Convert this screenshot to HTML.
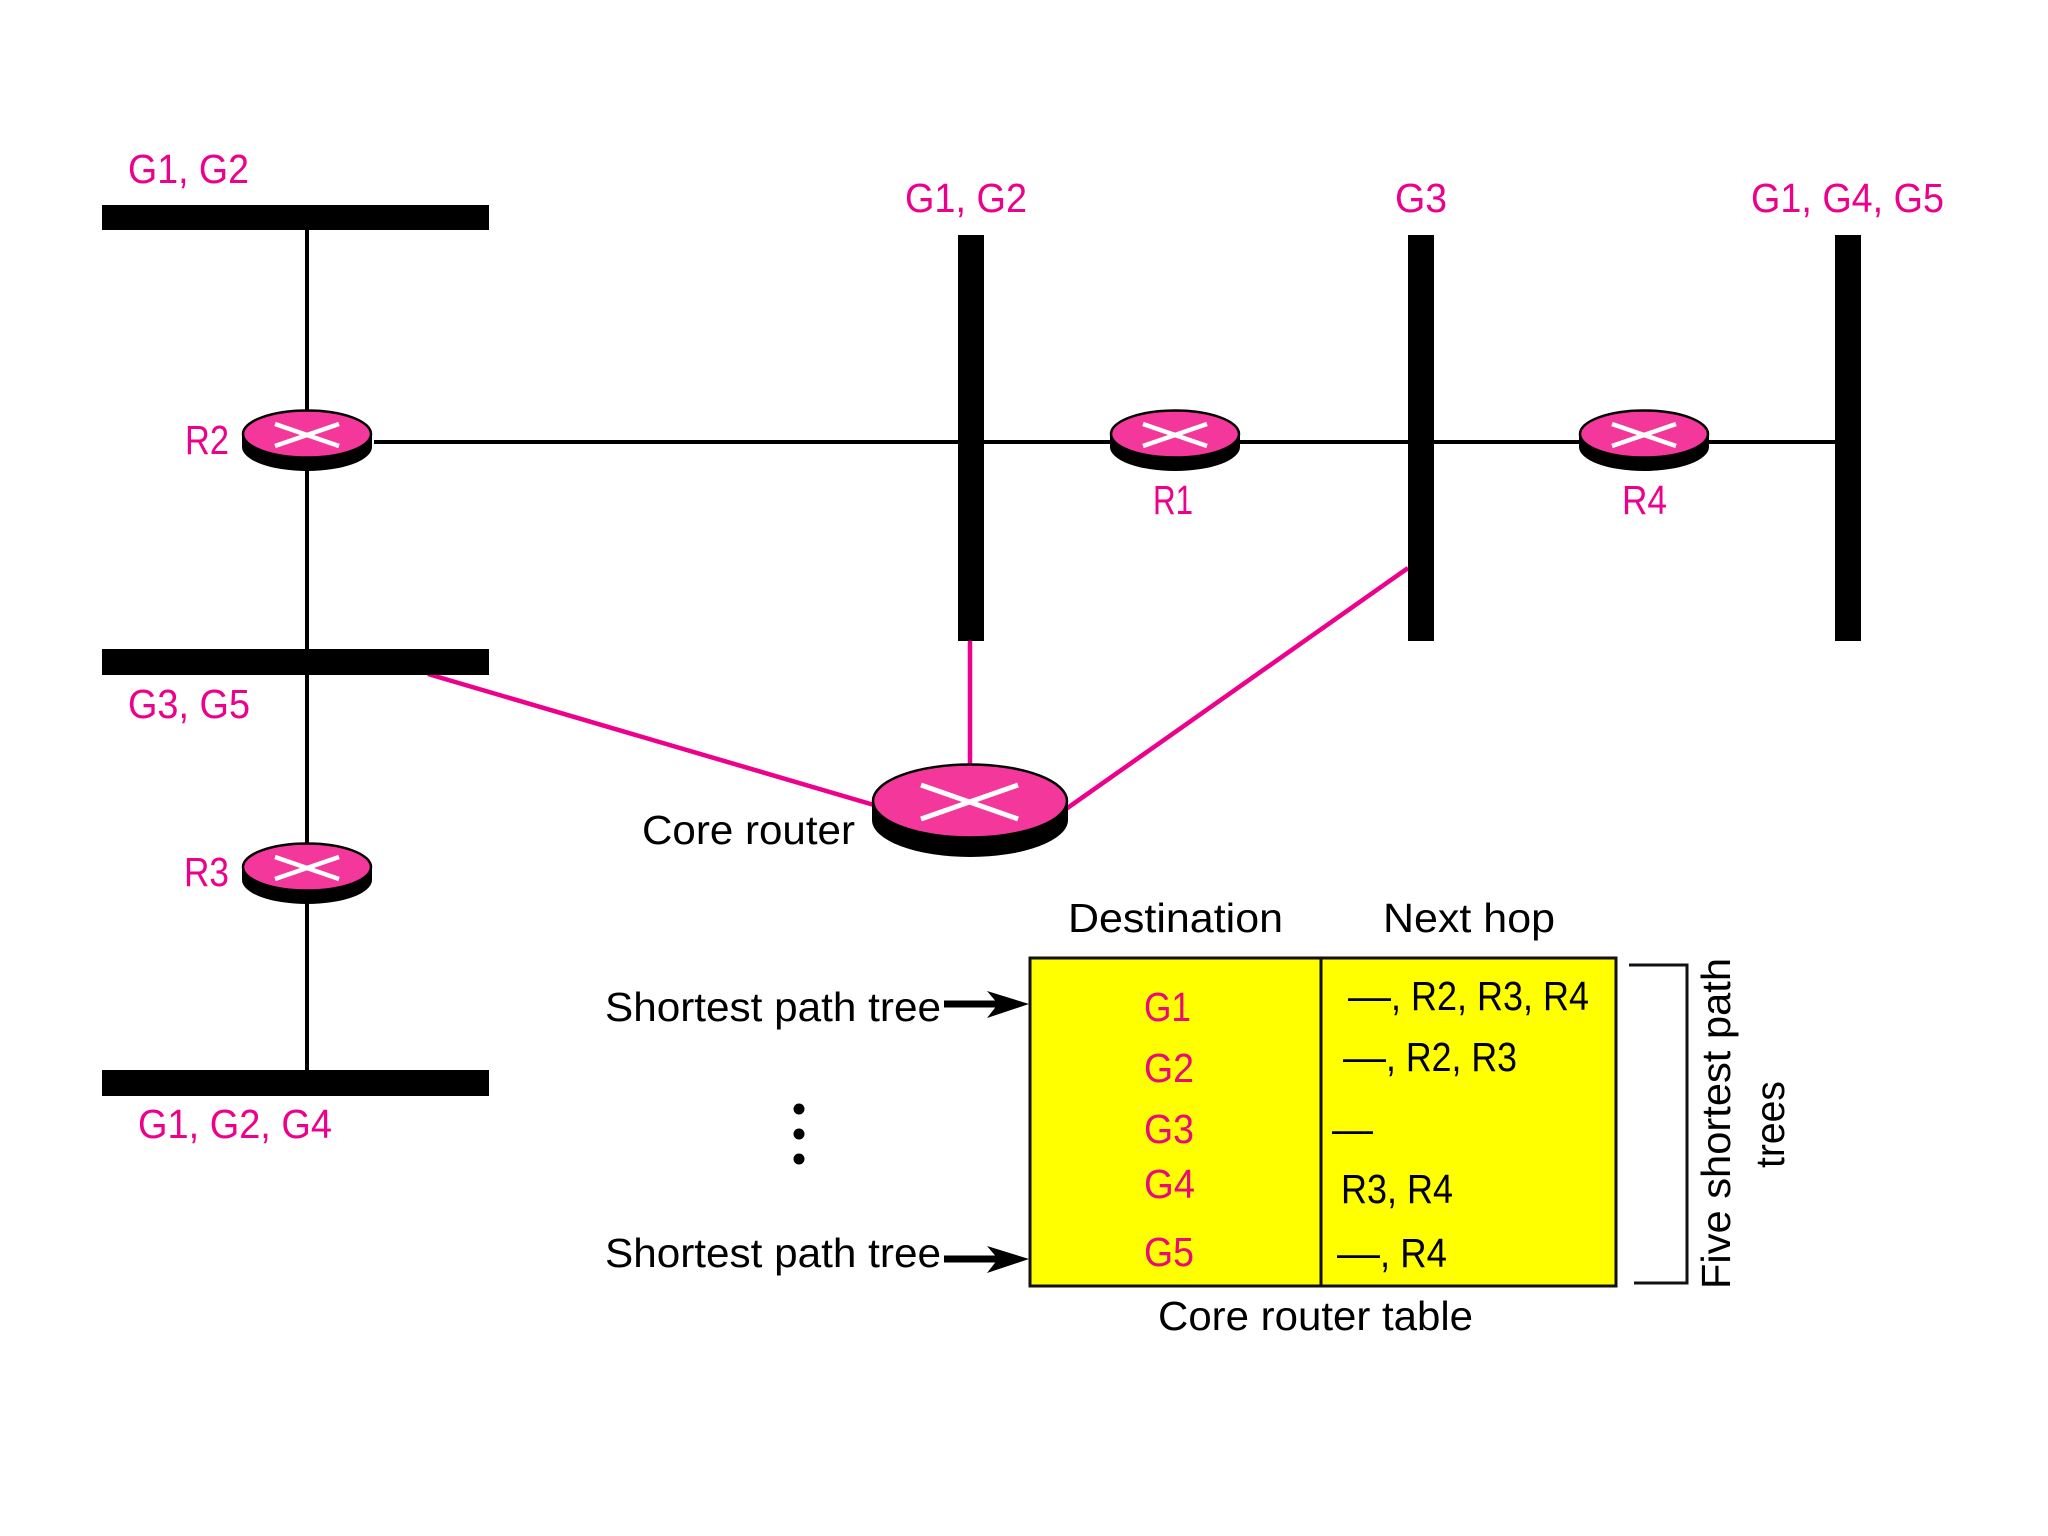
<!DOCTYPE html>
<html>
<head>
<meta charset="utf-8">
<style>
html,body{margin:0;padding:0;background:#fff;width:2048px;height:1536px;overflow:hidden}
svg{display:block}
text{font-family:"Liberation Sans",sans-serif;font-size:41px}
.p{fill:#ec008c}
.k{fill:#000}
.r{fill:#ea0a78}
</style>
</head>
<body>
<svg width="2048" height="1536" viewBox="0 0 2048 1536" xmlns="http://www.w3.org/2000/svg">
<defs>
<g id="rt">
  <path d="M-65,0 V13 A65,24 0 0 0 65,13 V0 Z" fill="#000"/>
  <ellipse cx="0" cy="0" rx="64" ry="23.5" fill="#f4379a" stroke="#000" stroke-width="2.5"/>
  <path d="M-32,-10 L32,12 M-32,12 L32,-10" stroke="#fff" stroke-width="4.5" fill="none"/>
</g>
</defs>
<rect width="2048" height="1536" fill="#fff"/>

<!-- black connectors -->
<path d="M307,230 V1070" stroke="#000" stroke-width="4" fill="none"/>
<path d="M374,442 H1835" stroke="#000" stroke-width="4" fill="none"/>

<!-- pink connectors -->
<path d="M428,674 L874,805 M970,641 V766 M1066,809 L1408,568" stroke="#ec008c" stroke-width="4.5" fill="none"/>

<!-- bars -->
<rect x="102" y="205" width="387" height="25" fill="#000"/>
<rect x="102" y="649" width="387" height="26" fill="#000"/>
<rect x="102" y="1070" width="387" height="26" fill="#000"/>
<rect x="958" y="235" width="26" height="406" fill="#000"/>
<rect x="1408" y="235" width="26" height="406" fill="#000"/>
<rect x="1835" y="235" width="26" height="406" fill="#000"/>

<!-- routers -->
<use href="#rt" x="307" y="434"/>
<use href="#rt" x="1175" y="434"/>
<use href="#rt" x="1644" y="434"/>
<use href="#rt" x="307" y="867"/>
<g>
  <path d="M-98,0 V19 A98,37 0 0 0 98,19 V0 Z" transform="translate(970,801)" fill="#000"/>
  <ellipse cx="970" cy="801" rx="97" ry="36.5" fill="#f4379a" stroke="#000" stroke-width="2.5"/>
  <path d="M921,785 L1018,819 M921,819 L1018,785" stroke="#fff" stroke-width="5" fill="none"/>
</g>

<!-- network labels -->
<text class="p" x="128" y="183" textLength="121" lengthAdjust="spacingAndGlyphs">G1, G2</text>
<text class="p" x="905" y="212" textLength="122" lengthAdjust="spacingAndGlyphs">G1, G2</text>
<text class="p" x="1395" y="212" textLength="52" lengthAdjust="spacingAndGlyphs">G3</text>
<text class="p" x="1751" y="212" textLength="193" lengthAdjust="spacingAndGlyphs">G1, G4, G5</text>
<text class="p" x="185" y="454" textLength="44" lengthAdjust="spacingAndGlyphs">R2</text>
<text class="p" x="1153" y="514" textLength="40" lengthAdjust="spacingAndGlyphs">R1</text>
<text class="p" x="1622" y="514" textLength="45" lengthAdjust="spacingAndGlyphs">R4</text>
<text class="p" x="128" y="718" textLength="122" lengthAdjust="spacingAndGlyphs">G3, G5</text>
<text class="p" x="184" y="886" textLength="45" lengthAdjust="spacingAndGlyphs">R3</text>
<text class="p" x="138" y="1138" textLength="194" lengthAdjust="spacingAndGlyphs">G1, G2, G4</text>
<text class="k" x="642" y="844" textLength="213" lengthAdjust="spacingAndGlyphs">Core router</text>

<!-- table -->
<rect x="1030" y="958" width="586" height="328" fill="#ffff00" stroke="#111" stroke-width="3"/>
<path d="M1321,958 V1286" stroke="#111" stroke-width="3" fill="none"/>
<text class="k" x="1068" y="932" textLength="215" lengthAdjust="spacingAndGlyphs">Destination</text>
<text class="k" x="1383" y="932" textLength="172" lengthAdjust="spacingAndGlyphs">Next hop</text>
<text class="r" x="1144" y="1021" textLength="47" lengthAdjust="spacingAndGlyphs">G1</text>
<text class="r" x="1144" y="1082" textLength="50" lengthAdjust="spacingAndGlyphs">G2</text>
<text class="r" x="1144" y="1143" textLength="50" lengthAdjust="spacingAndGlyphs">G3</text>
<text class="r" x="1144" y="1198" textLength="51" lengthAdjust="spacingAndGlyphs">G4</text>
<text class="r" x="1144" y="1266" textLength="50" lengthAdjust="spacingAndGlyphs">G5</text>
<text class="k" x="1348" y="1010" textLength="43" lengthAdjust="spacingAndGlyphs">—</text>
<text class="k" x="1391" y="1010" textLength="198" lengthAdjust="spacingAndGlyphs">, R2, R3, R4</text>
<text class="k" x="1343" y="1071" textLength="43" lengthAdjust="spacingAndGlyphs">—</text>
<text class="k" x="1386" y="1071" textLength="131" lengthAdjust="spacingAndGlyphs">, R2, R3</text>
<text class="k" x="1332" y="1143" textLength="41" lengthAdjust="spacingAndGlyphs">—</text>
<text class="k" x="1341" y="1203" textLength="112" lengthAdjust="spacingAndGlyphs">R3, R4</text>
<text class="k" x="1337" y="1267" textLength="43" lengthAdjust="spacingAndGlyphs">—</text>
<text class="k" x="1380" y="1267" textLength="67" lengthAdjust="spacingAndGlyphs">, R4</text>
<text class="k" x="1158" y="1330" textLength="315" lengthAdjust="spacingAndGlyphs">Core router table</text>

<!-- bracket -->
<path d="M1629,965 H1687 V1283 H1634" stroke="#111" stroke-width="3" fill="none"/>
<text class="k" transform="translate(1730,1289) rotate(-90)" textLength="331" lengthAdjust="spacingAndGlyphs">Five shortest path</text>
<text class="k" transform="translate(1784,1168) rotate(-90)" textLength="87" lengthAdjust="spacingAndGlyphs">trees</text>

<!-- shortest path trees -->
<text class="k" x="605" y="1021" textLength="336" lengthAdjust="spacingAndGlyphs">Shortest path tree</text>
<text class="k" x="605" y="1267" textLength="336" lengthAdjust="spacingAndGlyphs">Shortest path tree</text>
<path d="M944,1000.5 H1000 V1007.5 H944 Z M987,991 L1029,1004 L987,1018 L998,1004 Z" fill="#000"/>
<path d="M944,1255.5 H1000 V1262.5 H944 Z M987,1246 L1029,1259 L987,1273 L998,1259 Z" fill="#000"/>
<circle cx="799" cy="1109" r="5.5" fill="#000"/>
<circle cx="799" cy="1134" r="5.5" fill="#000"/>
<circle cx="799" cy="1159" r="5.5" fill="#000"/>
</svg>
</body>
</html>
